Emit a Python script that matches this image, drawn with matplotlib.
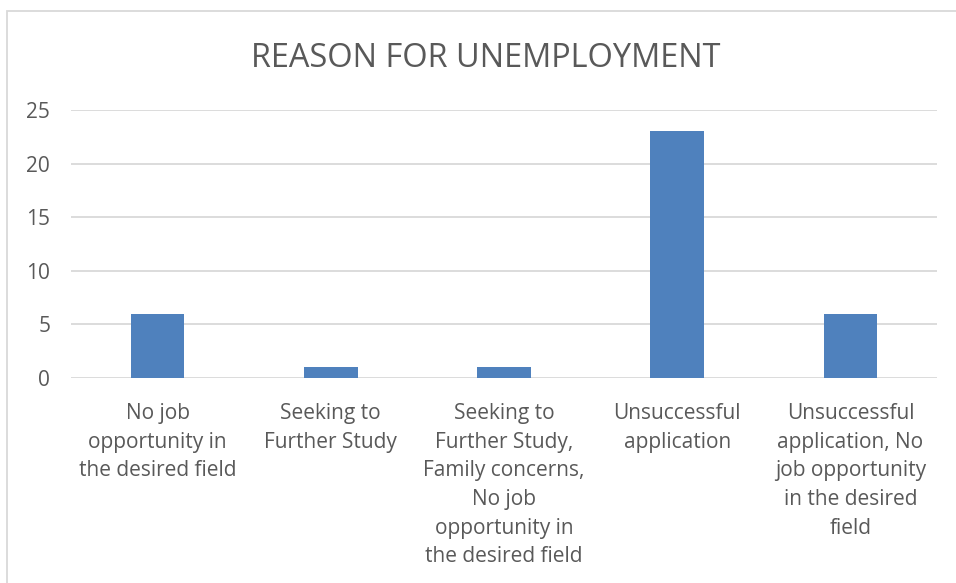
import matplotlib
matplotlib.use("Agg")
import matplotlib.pyplot as plt
from matplotlib.patches import Rectangle

plt.rcParams['font.family'] = ['Open Sans', 'DejaVu Sans']

categories = [
    "No job\nopportunity in\nthe desired field",
    "Seeking to\nFurther Study",
    "Seeking to\nFurther Study,\nFamily concerns,\nNo job\nopportunity in\nthe desired field",
    "Unsuccessful\napplication",
    "Unsuccessful\napplication, No\njob opportunity\nin the desired\nfield",
]
counts = [6, 1, 1, 23, 6]
y_ticks = [0, 5, 10, 15, 20, 25]

W, H, DPI = 956, 583, 100
fig = plt.figure(figsize=(W / DPI, H / DPI), dpi=DPI)
fig.patch.set_facecolor("white")

# chart frame (extends past the right and bottom edges)
fig.patches.append(Rectangle((7 / W, -0.05), 1.2, (H - 11) / H + 0.05,
                             transform=fig.transFigure, fill=False,
                             edgecolor="#D9D9D9", linewidth=1.3))

left, right, top, bottom = 71, 937, 110, 378
ax = fig.add_axes([left / W, 1 - bottom / H, (right - left) / W, (bottom - top) / H])

x = range(len(categories))
ax.bar(x, counts, width=0.31, color="#4F81BD", zorder=3)

ax.set_xlim(-0.5, len(categories) - 0.5)
ax.set_ylim(0, 25)
ax.set_yticks(y_ticks)
ax.set_yticklabels([str(t) for t in y_ticks])
ax.set_xticks(list(x))
ax.set_xticklabels(categories, linespacing=1.48)

ax.grid(axis="y", color="#D9D9D9", linewidth=1.3, zorder=0)
for s in ax.spines.values():
    s.set_visible(False)
ax.tick_params(axis="both", length=0, labelsize=15, labelcolor="#595959")
ax.tick_params(axis="y", pad=15)
ax.tick_params(axis="x", pad=18)

fig.text(486 / W, 1 - 67 / H, "REASON FOR UNEMPLOYMENT", ha="center", va="baseline",
         fontsize=23.4, color="#595959")

fig.savefig("out.png", dpi=DPI, facecolor="white")
